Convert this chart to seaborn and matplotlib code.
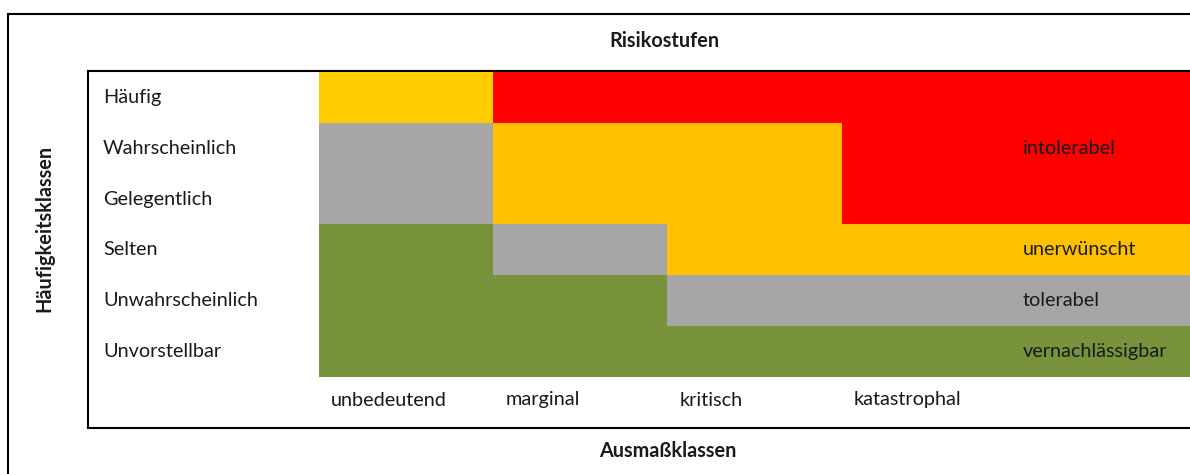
import numpy as np
import pandas as pd
import seaborn as sns
import matplotlib.pyplot as plt
from matplotlib.colors import ListedColormap

# Data: risk matrix (rows = frequency classes, cols = severity classes + level column)
haeufigkeit = ['Häufig', 'Wahrscheinlich', 'Gelegentlich', 'Selten',
               'Unwahrscheinlich', 'Unvorstellbar']
ausmass = ['unbedeutend', 'marginal', 'kritisch', 'katastrophal', '']
# 0 = vernachlässigbar, 1 = tolerabel, 2 = unerwünscht, 3 = unerwünscht (hell), 4 = intolerabel
stufen = [
    [3, 4, 4, 4, 4],
    [1, 2, 2, 4, 4],
    [1, 2, 2, 4, 4],
    [0, 1, 2, 2, 2],
    [0, 0, 1, 1, 1],
    [0, 0, 0, 0, 0],
]
stufen_namen = ['', 'intolerabel', '', 'unerwünscht', 'tolerabel', 'vernachlässigbar']
farben = ['#77933C', '#A6A6A6', '#FFC000', '#FFCC00', '#FF0000']

df = pd.DataFrame(stufen, index=haeufigkeit, columns=ausmass)

sns.set_style("white")
plt.rcParams['font.family'] = ['Lato', 'DejaVu Sans']
txt = '#1a1a1a'
fs = 14.3

W, H = 1190, 474
fig = plt.figure(figsize=(W / 100, H / 100), dpi=100)

# outer frame
frame = fig.add_axes([8 / W, -0.1, 1.1, (H - 14) / H + 0.1])
frame.set_xticks([]); frame.set_yticks([])
for s in frame.spines.values():
    s.set_linewidth(1.5); s.set_color('black')

# inner box
box = fig.add_axes([88 / W, (H - 428) / H, 1.1, (428 - 71) / H])
box.set_xticks([]); box.set_yticks([])
for s in box.spines.values():
    s.set_linewidth(1.5); s.set_color('black')

# matrix
ax = fig.add_axes([319 / W, (H - 377) / H, (W - 319) / W, (377 - 72) / H])
sns.heatmap(df, cmap=ListedColormap(farben), vmin=-0.5, vmax=4.5, cbar=False,
            ax=ax, linewidths=0)
ax.set_xlabel(''); ax.set_ylabel('')

ax.set_yticks(np.arange(len(haeufigkeit)) + 0.5)
ax.set_yticklabels(haeufigkeit, rotation=0, ha='left', fontsize=fs, color=txt)
ax.tick_params(axis='y', length=0, pad=216 * 0.72)

ax.set_xticks(np.arange(4) + 0.07)
ax.set_xticklabels(ausmass[:4], rotation=0, ha='left', va='center', fontsize=fs, color=txt)
ax.tick_params(axis='x', length=0, pad=23 * 0.72)

for i, name in enumerate(stufen_namen):
    if name:
        ax.text(4.04, i + 0.5, name, ha='left', va='center', fontsize=fs, color=txt)

fig.text(664 / W, 1 - 41 / H, 'Risikostufen', ha='center', va='center',
         fontsize=fs, fontweight='bold', color=txt)
fig.text(668 / W, 1 - 451 / H, 'Ausmaßklassen', ha='center', va='center',
         fontsize=fs, fontweight='bold', color=txt)
fig.text(44 / W, 1 - 228 / H, 'Häufigkeitsklassen', ha='center', va='center',
         rotation=90, fontsize=fs, fontweight='bold', color=txt)

plt.savefig('out.png', dpi=100)
